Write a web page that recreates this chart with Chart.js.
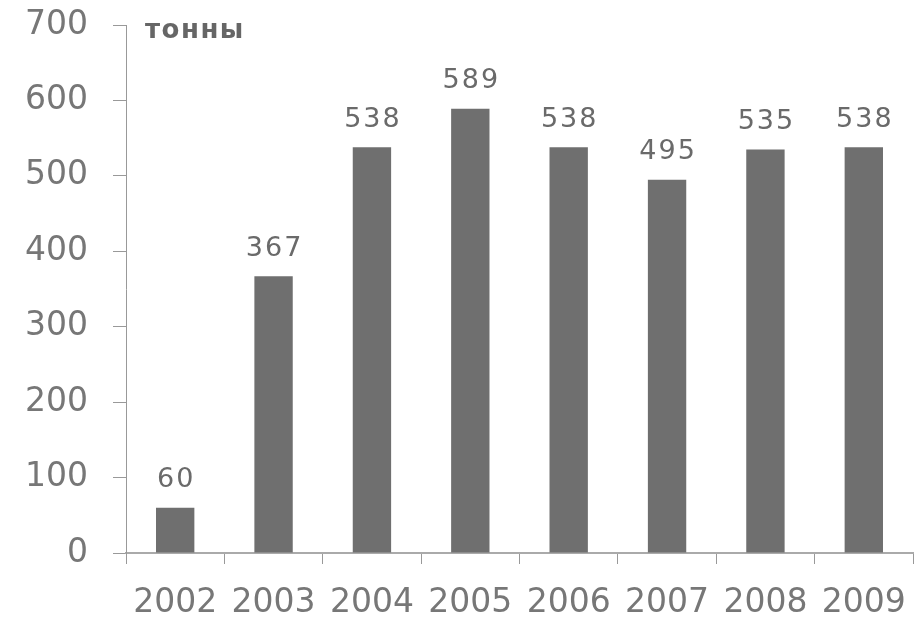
<!DOCTYPE html>
<html>
<head>
<meta charset="utf-8">
<script src="https://cdn.jsdelivr.net/npm/chart.js"></script>
<style>
  html, body { margin: 0; padding: 0; background: #fff; }
  #wrap { width: 920px; height: 622px; }
</style>
</head>
<body>
<div id="wrap"><canvas id="tonChart"></canvas></div>
<script>
// data
const years = ['2002', '2003', '2004', '2005', '2006', '2007', '2008', '2009'];
const tonnes = [60, 367, 538, 589, 538, 495, 535, 538];
const unitLabel = 'тонны';

// draws the value over each bar
const valueLabels = {
    id: 'valueLabels',
    afterDatasetsDraw(chart) {
        const ctx = chart.ctx;
        const meta = chart.getDatasetMeta(0);
        ctx.save();
        ctx.font = '27px "DejaVu Sans"';
        ctx.letterSpacing = '2px';
        ctx.fillStyle = '#6a6a6a';
        ctx.textAlign = 'center';
        ctx.textBaseline = 'bottom';
        meta.data.forEach((bar, i) => {
            ctx.fillText(String(tonnes[i]), bar.x + 1, bar.y - 14);
        });
        ctx.restore();
    }
};

// unit text in the top left corner
const unitText = {
    id: 'unitText',
    afterDraw(chart) {
        const ctx = chart.ctx;
        ctx.save();
        ctx.font = 'bold 26px "DejaVu Sans"';
        ctx.letterSpacing = '1.5px';
        ctx.fillStyle = '#666';
        ctx.textAlign = 'left';
        ctx.textBaseline = 'middle';
        ctx.fillText(unitLabel, chart.chartArea.left + 19, chart.chartArea.top + 6);
        ctx.restore();
    }
};

new Chart(document.getElementById('tonChart'), {
    type: 'bar',
    data: {
        labels: years,
        datasets: [{
            data: tonnes,
            backgroundColor: '#6f6f6f',
            barPercentage: 0.39,
            categoryPercentage: 1.0
        }]
    },
    options: {
        responsive: true,
        maintainAspectRatio: false,
        animation: false,
        layout: { padding: { top: 25, right: 7, left: 0, bottom: 0 } },
        plugins: {
            legend: { display: false },
            tooltip: { enabled: false }
        },
        scales: {
            x: {
                offset: true,
                grid: {
                    offset: true,
                    drawOnChartArea: false,
                    drawTicks: true,
                    tickLength: 11,
                    color: '#999'
                },
                border: { color: '#aaa', width: 2 },
                ticks: {
                    color: '#777',
                    font: { family: 'DejaVu Sans', size: 33 },
                    padding: 20,
                    maxRotation: 0,
                    autoSkip: false
                },
                afterFit(scale) {
                    scale.height = 69;
                    scale.paddingLeft = 0;
                    scale.paddingRight = 0;
                }
            },
            y: {
                min: 0,
                max: 700,
                grid: {
                    drawOnChartArea: false,
                    drawTicks: true,
                    tickLength: 13,
                    color: '#999'
                },
                border: { color: '#999', width: 1 },
                ticks: {
                    stepSize: 100,
                    color: '#777',
                    font: { family: 'DejaVu Sans', size: 33 },
                    padding: 25
                },
                afterFit(scale) {
                    scale.width = 126;
                    scale.paddingTop = 0;
                    scale.paddingBottom = 0;
                }
            }
        }
    },
    plugins: [valueLabels, unitText]
});
</script>
</body>
</html>
